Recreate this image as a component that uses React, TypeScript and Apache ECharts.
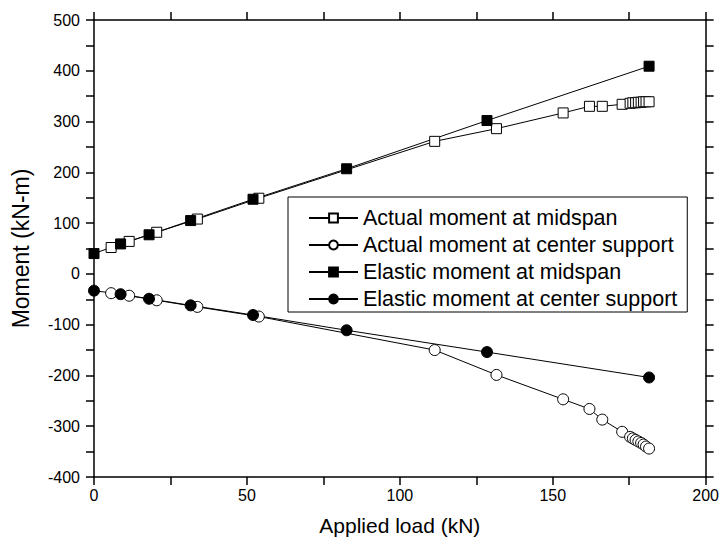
import React, { useEffect, useRef } from "react";
import * as echarts from "echarts";

// Applied load (kN)
const elasticLoad = [0, 8.7, 18, 31.6, 52, 82.6, 128.5, 181.5];
const elasticMidspan = [40, 59, 77, 105, 147, 207, 302, 409];
const elasticSupport = [-33, -40, -49, -62, -81, -111, -154, -204];

const actualLoad = [5.6, 11.5, 20.5, 33.8, 53.9, 111.4, 131.6, 153.4, 162, 166.2, 172.7, 175.3, 176.2, 177.1, 178, 178.9, 179.7, 180.5, 181.5];
const actualMidspan = [52, 64, 82, 108, 149, 261, 286, 317, 330, 330, 334, 336, 337, 337, 338, 338, 339, 339, 339];
const actualSupport = [-38, -43, -52, -65, -84, -150, -199, -247, -266, -287, -311, -321, -324, -327, -330, -333, -336, -340, -344];

const seriesNames = [
  "Actual moment at midspan",
  "Actual moment at center support",
  "Elastic moment at midspan",
  "Elastic moment at center support",
];

const xTitle = "Applied load (kN)";
const yTitle = "Moment (kN-m)";

const FONT = '"Liberation Sans", Arial, Helvetica, sans-serif';

function pairs(xs: number[], ys: number[]) {
  return xs.map((x, i) => [x, ys[i]]);
}

export default function App() {
  const ref = useRef<HTMLDivElement>(null);
  useEffect(() => {
    if (!ref.current) return;
    const chart = echarts.init(ref.current, null, { renderer: "svg" });
    const axisLine = { onZero: false, lineStyle: { color: "#000", width: 1.5 } };
    const axisTick = { inside: false, length: 8, lineStyle: { color: "#000", width: 1.5 } };
    const lineStyle = { color: "#000", width: 1 };
    const openItem = { color: "#fff", borderColor: "#000", borderWidth: 1 };
    const filledItem = { color: "#000", borderColor: "#000", borderWidth: 1 };
    chart.setOption({
      animation: false,
      backgroundColor: "#fff",
      grid: { left: 94, right: 16, top: 20, bottom: 70 },
      xAxis: [
        {
          type: "value",
          min: 0,
          max: 200,
          interval: 25,
          axisLine,
          axisTick,
          splitLine: { show: false },
          axisLabel: {
            formatter: (v: number) => (v % 50 === 0 ? String(v) : ""),
            color: "#000",
            fontSize: 16,
            fontFamily: FONT,
            margin: 10,
          },
          name: xTitle,
          nameLocation: "middle",
          nameGap: 38,
          nameTextStyle: { fontSize: 21, color: "#000", fontFamily: FONT },
        },
        {
          type: "value",
          position: "top",
          min: 0,
          max: 200,
          interval: 25,
          axisLine,
          axisTick,
          splitLine: { show: false },
          axisLabel: { show: false },
        },
      ],
      yAxis: [
        {
          type: "value",
          min: -400,
          max: 500,
          interval: 50,
          axisLine,
          axisTick,
          splitLine: { show: false },
          axisLabel: {
            formatter: (v: number) => (v % 100 === 0 ? String(v) : ""),
            color: "#000",
            fontSize: 16,
            fontFamily: FONT,
            margin: 14,
          },
          name: yTitle,
          nameLocation: "middle",
          nameGap: 62,
          nameTextStyle: { fontSize: 23, color: "#000", fontFamily: FONT },
        },
        {
          type: "value",
          position: "right",
          min: -400,
          max: 500,
          interval: 50,
          axisLine,
          axisTick,
          splitLine: { show: false },
          axisLabel: { show: false },
        },
      ],
      legend: {
        orient: "vertical",
        left: 288,
        top: 197,
        itemWidth: 49,
        itemHeight: 11,
        itemGap: 5,
        padding: [10, 10, 2, 20],
        borderColor: "#000",
        borderWidth: 1,
        backgroundColor: "#fff",
        textStyle: { fontSize: 21.5, color: "#000", fontFamily: FONT },
        data: seriesNames,
      },
      series: [
        {
          name: seriesNames[0],
          type: "line",
          data: pairs(actualLoad, actualMidspan),
          symbol: "rect",
          symbolSize: 10,
          showAllSymbol: true,
          lineStyle,
          itemStyle: openItem,
        },
        {
          name: seriesNames[1],
          type: "line",
          data: pairs(actualLoad, actualSupport),
          symbol: "circle",
          symbolSize: 11,
          showAllSymbol: true,
          lineStyle,
          itemStyle: openItem,
        },
        {
          name: seriesNames[2],
          type: "line",
          data: pairs(elasticLoad, elasticMidspan),
          symbol: "rect",
          symbolSize: 10,
          showAllSymbol: true,
          lineStyle,
          itemStyle: filledItem,
        },
        {
          name: seriesNames[3],
          type: "line",
          data: pairs(elasticLoad, elasticSupport),
          symbol: "circle",
          symbolSize: 11,
          showAllSymbol: true,
          lineStyle,
          itemStyle: filledItem,
        },
      ],
    });
    return () => chart.dispose();
  }, []);
  return (
    <div
      ref={ref}
      style={{ position: "absolute", left: 0, top: 0, width: 722, height: 547 }}
    />
  );
}
